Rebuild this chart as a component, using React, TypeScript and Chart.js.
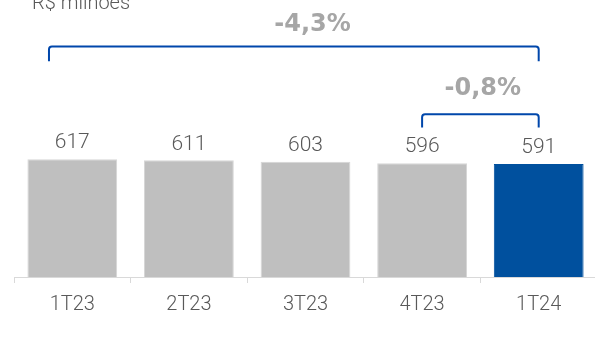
import React, { useEffect, useRef } from "react";
import { Chart, registerables } from "chart.js";

Chart.register(...registerables);

const categories = ["1T23", "2T23", "3T23", "4T23", "1T24"];
const values = [617, 611, 603, 596, 591];
const barColors = ["#bfbfbf", "#bfbfbf", "#bfbfbf", "#bfbfbf", "#00509e"];
const borderColors = ["#d6d6d6", "#d6d6d6", "#d6d6d6", "#d6d6d6", "#00509e"];
const unitLabel = "R$ milhões";

// bracket annotations: from/to category index, level (value units), drop (value units), label
const bracketLabels = ["-4,3%", "-0,8%"];
const bracketFrom = [-0.2, 3];
const bracketTo = [4, 4];
const bracketLevel = [1207, 852];
const bracketDrop = [78, 69];
const bracketTextX = [2.06, 3.52];
const bracketTextY = [1322, 986];

const FONT = "Roboto";

const annotationPlugin = {
  id: "annot",
  afterDraw(chart: any) {
    const { ctx, scales } = chart;
    const xs = scales.x;
    const ys = scales.y;
    ctx.save();
    // value labels
    const meta = chart.getDatasetMeta(0);
    ctx.font = `300 21px ${FONT}`;
    ctx.fillStyle = "#595959";
    ctx.textAlign = "center";
    ctx.textBaseline = "middle";
    meta.data.forEach((bar: any, i: number) => {
      ctx.fillText(String(values[i]), bar.x, bar.y - 16);
    });
    // unit label
    ctx.textAlign = "left";
    ctx.textBaseline = "alphabetic";
    ctx.font = `300 20px ${FONT}`;
    ctx.fillText(unitLabel, 32, 9);
    // brackets
    ctx.strokeStyle = "#0047ab";
    ctx.lineWidth = 2;
    ctx.lineJoin = "round";
    for (let i = 0; i < bracketLabels.length; i++) {
      const x1 = xs.getPixelForValue(bracketFrom[i]);
      const x2 = xs.getPixelForValue(bracketTo[i]);
      const yl = ys.getPixelForValue(bracketLevel[i]);
      const yd = ys.getPixelForValue(bracketLevel[i] - bracketDrop[i]);
      ctx.beginPath();
      ctx.moveTo(x1, yd);
      ctx.arcTo(x1, yl, x2, yl, 3);
      ctx.arcTo(x2, yl, x2, yd, 3);
      ctx.lineTo(x2, yd);
      ctx.stroke();
      ctx.font = `bold 24px "DejaVu Sans"`;
      ctx.fillStyle = "#a6a6a6";
      ctx.textAlign = "center";
      ctx.textBaseline = "middle";
      ctx.fillText(
        bracketLabels[i],
        xs.getPixelForValue(bracketTextX[i]),
        ys.getPixelForValue(bracketTextY[i])
      );
    }
    ctx.restore();
  },
};

export default function App() {
  const ref = useRef<HTMLCanvasElement>(null);
  useEffect(() => {
    if (!ref.current) return;
    const chart = new Chart(ref.current, {
      type: "bar",
      data: {
        labels: categories,
        datasets: [
          {
            data: values,
            backgroundColor: barColors,
            borderColor: borderColors,
            borderWidth: 1,
            barPercentage: 0.77,
            categoryPercentage: 1,
          },
        ],
      },
      options: {
        animation: false,
        responsive: false,
        maintainAspectRatio: false,
        layout: { padding: { left: 14, right: 0, top: 0, bottom: 18 } },
        plugins: { legend: { display: false }, tooltip: { enabled: false } },
        scales: {
          x: {
            offset: true,
            border: { display: true, color: "#d9d9d9", width: 1 },
            grid: {
              offset: true,
              drawOnChartArea: false,
              drawTicks: true,
              tickLength: 6,
              color: "#d9d9d9",
            },
            ticks: {
              padding: 10,
              color: "#595959",
              font: { family: FONT, size: 20, weight: "300" as any },
            },
          },
          y: { display: false, min: 0, max: 1450 },
        },
      },
      plugins: [annotationPlugin],
    });
    return () => chart.destroy();
  }, []);
  return (
    <div style={{ position: "fixed", left: 0, top: 0, width: 597, height: 345 }}>
      <canvas ref={ref} width={597} height={345} style={{ width: 597, height: 345 }} />
    </div>
  );
}
